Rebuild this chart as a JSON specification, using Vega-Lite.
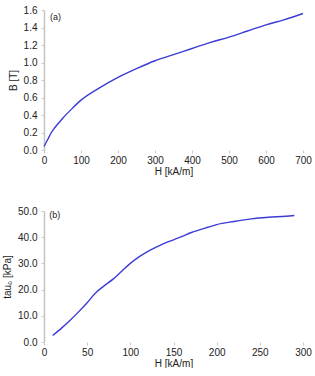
{
  "$schema": "https://vega.github.io/schema/vega-lite/v6.json",
  "background": "white",
  "padding": {"left": 2, "top": 5, "right": 10, "bottom": 0},
  "spacing": 30,
  "config": {
    "view": {"stroke": null},
    "font": "Liberation Sans",
    "axis": {
      "grid": false,
      "labelFont": "Liberation Sans",
      "titleFont": "Liberation Sans",
      "labelFontSize": 10,
      "titleFontSize": 10,
      "titleFontWeight": "normal",
      "labelColor": "#222",
      "titleColor": "#222",
      "tickColor": "#c8c8c8",
      "tickSize": 3
    },
    "axisX": {"domain": false, "labelPadding": 2, "titlePadding": 1},
    "axisY": {"domainColor": "#c4c4c4", "domainWidth": 1.5, "labelPadding": 4, "titlePadding": 5}
  },
  "datasets": {
    "bh": [
      {"H": 0, "B": 0.04}, {"H": 10, "B": 0.12}, {"H": 20, "B": 0.2}, {"H": 30, "B": 0.26},
      {"H": 50, "B": 0.36}, {"H": 75, "B": 0.47}, {"H": 100, "B": 0.57}, {"H": 150, "B": 0.71},
      {"H": 200, "B": 0.83}, {"H": 250, "B": 0.93}, {"H": 300, "B": 1.02}, {"H": 350, "B": 1.09},
      {"H": 400, "B": 1.16}, {"H": 450, "B": 1.23}, {"H": 500, "B": 1.29}, {"H": 550, "B": 1.36},
      {"H": 600, "B": 1.43}, {"H": 650, "B": 1.49}, {"H": 700, "B": 1.56}
    ],
    "tau": [
      {"H": 10, "T": 2.5}, {"H": 20, "T": 5.2}, {"H": 30, "T": 8.2}, {"H": 40, "T": 11.5},
      {"H": 50, "T": 15}, {"H": 60, "T": 18.8}, {"H": 70, "T": 21.5}, {"H": 80, "T": 24},
      {"H": 90, "T": 27}, {"H": 100, "T": 30}, {"H": 110, "T": 32.5}, {"H": 120, "T": 34.5},
      {"H": 130, "T": 36.2}, {"H": 140, "T": 37.7}, {"H": 150, "T": 39}, {"H": 160, "T": 40.3},
      {"H": 170, "T": 41.7}, {"H": 180, "T": 42.8}, {"H": 190, "T": 43.8}, {"H": 200, "T": 44.8},
      {"H": 220, "T": 46}, {"H": 240, "T": 47}, {"H": 260, "T": 47.6}, {"H": 280, "T": 48},
      {"H": 290, "T": 48.3}
    ],
    "tagA": [{"H": 16, "B": 1.52, "label": "(a)"}],
    "tagB": [{"H": 6, "T": 48.3, "label": "(b)"}]
  },
  "vconcat": [
    {
      "width": 259,
      "height": 140,
      "encoding": {
        "x": {"field": "H", "type": "quantitative", "title": "H [kA/m]",
              "scale": {"domain": [0, 700], "nice": false},
              "axis": {"values": [0, 100, 200, 300, 400, 500, 600, 700], "labelOverlap": false, "labelFlush": false}},
        "y": {"field": "B", "type": "quantitative", "title": "B [T]",
              "scale": {"domain": [0, 1.6], "nice": false},
              "axis": {"values": [0, 0.2, 0.4, 0.6, 0.8, 1.0, 1.2, 1.4, 1.6], "format": ".1f", "labelOverlap": false, "labelFlush": false}}
      },
      "layer": [
        {
          "data": {"name": "bh"},
          "mark": {"type": "line", "color": "#3b3bd6", "strokeWidth": 1.4, "interpolate": "monotone"}
        },
        {
          "data": {"name": "tagA"},
          "mark": {"type": "text", "align": "left", "baseline": "middle", "fontSize": 9, "color": "#222"},
          "encoding": {"text": {"field": "label"}}
        }
      ]
    },
    {
      "width": 259,
      "height": 131,
      "encoding": {
        "x": {"field": "H", "type": "quantitative", "title": "H [kA/m]",
              "scale": {"domain": [0, 300], "nice": false},
              "axis": {"values": [0, 50, 100, 150, 200, 250, 300], "labelOverlap": false, "labelFlush": false}},
        "y": {"field": "T", "type": "quantitative", "title": "tau₀ [kPa]",
              "scale": {"domain": [0, 50], "nice": false},
              "axis": {"values": [0, 10, 20, 30, 40, 50], "format": ".1f", "labelOverlap": false, "labelFlush": false}}
      },
      "layer": [
        {
          "data": {"name": "tau"},
          "mark": {"type": "line", "color": "#3b3bd6", "strokeWidth": 1.4, "interpolate": "monotone"}
        },
        {
          "data": {"name": "tagB"},
          "mark": {"type": "text", "align": "left", "baseline": "middle", "fontSize": 9, "color": "#222"},
          "encoding": {"text": {"field": "label"}}
        }
      ]
    }
  ]
}
